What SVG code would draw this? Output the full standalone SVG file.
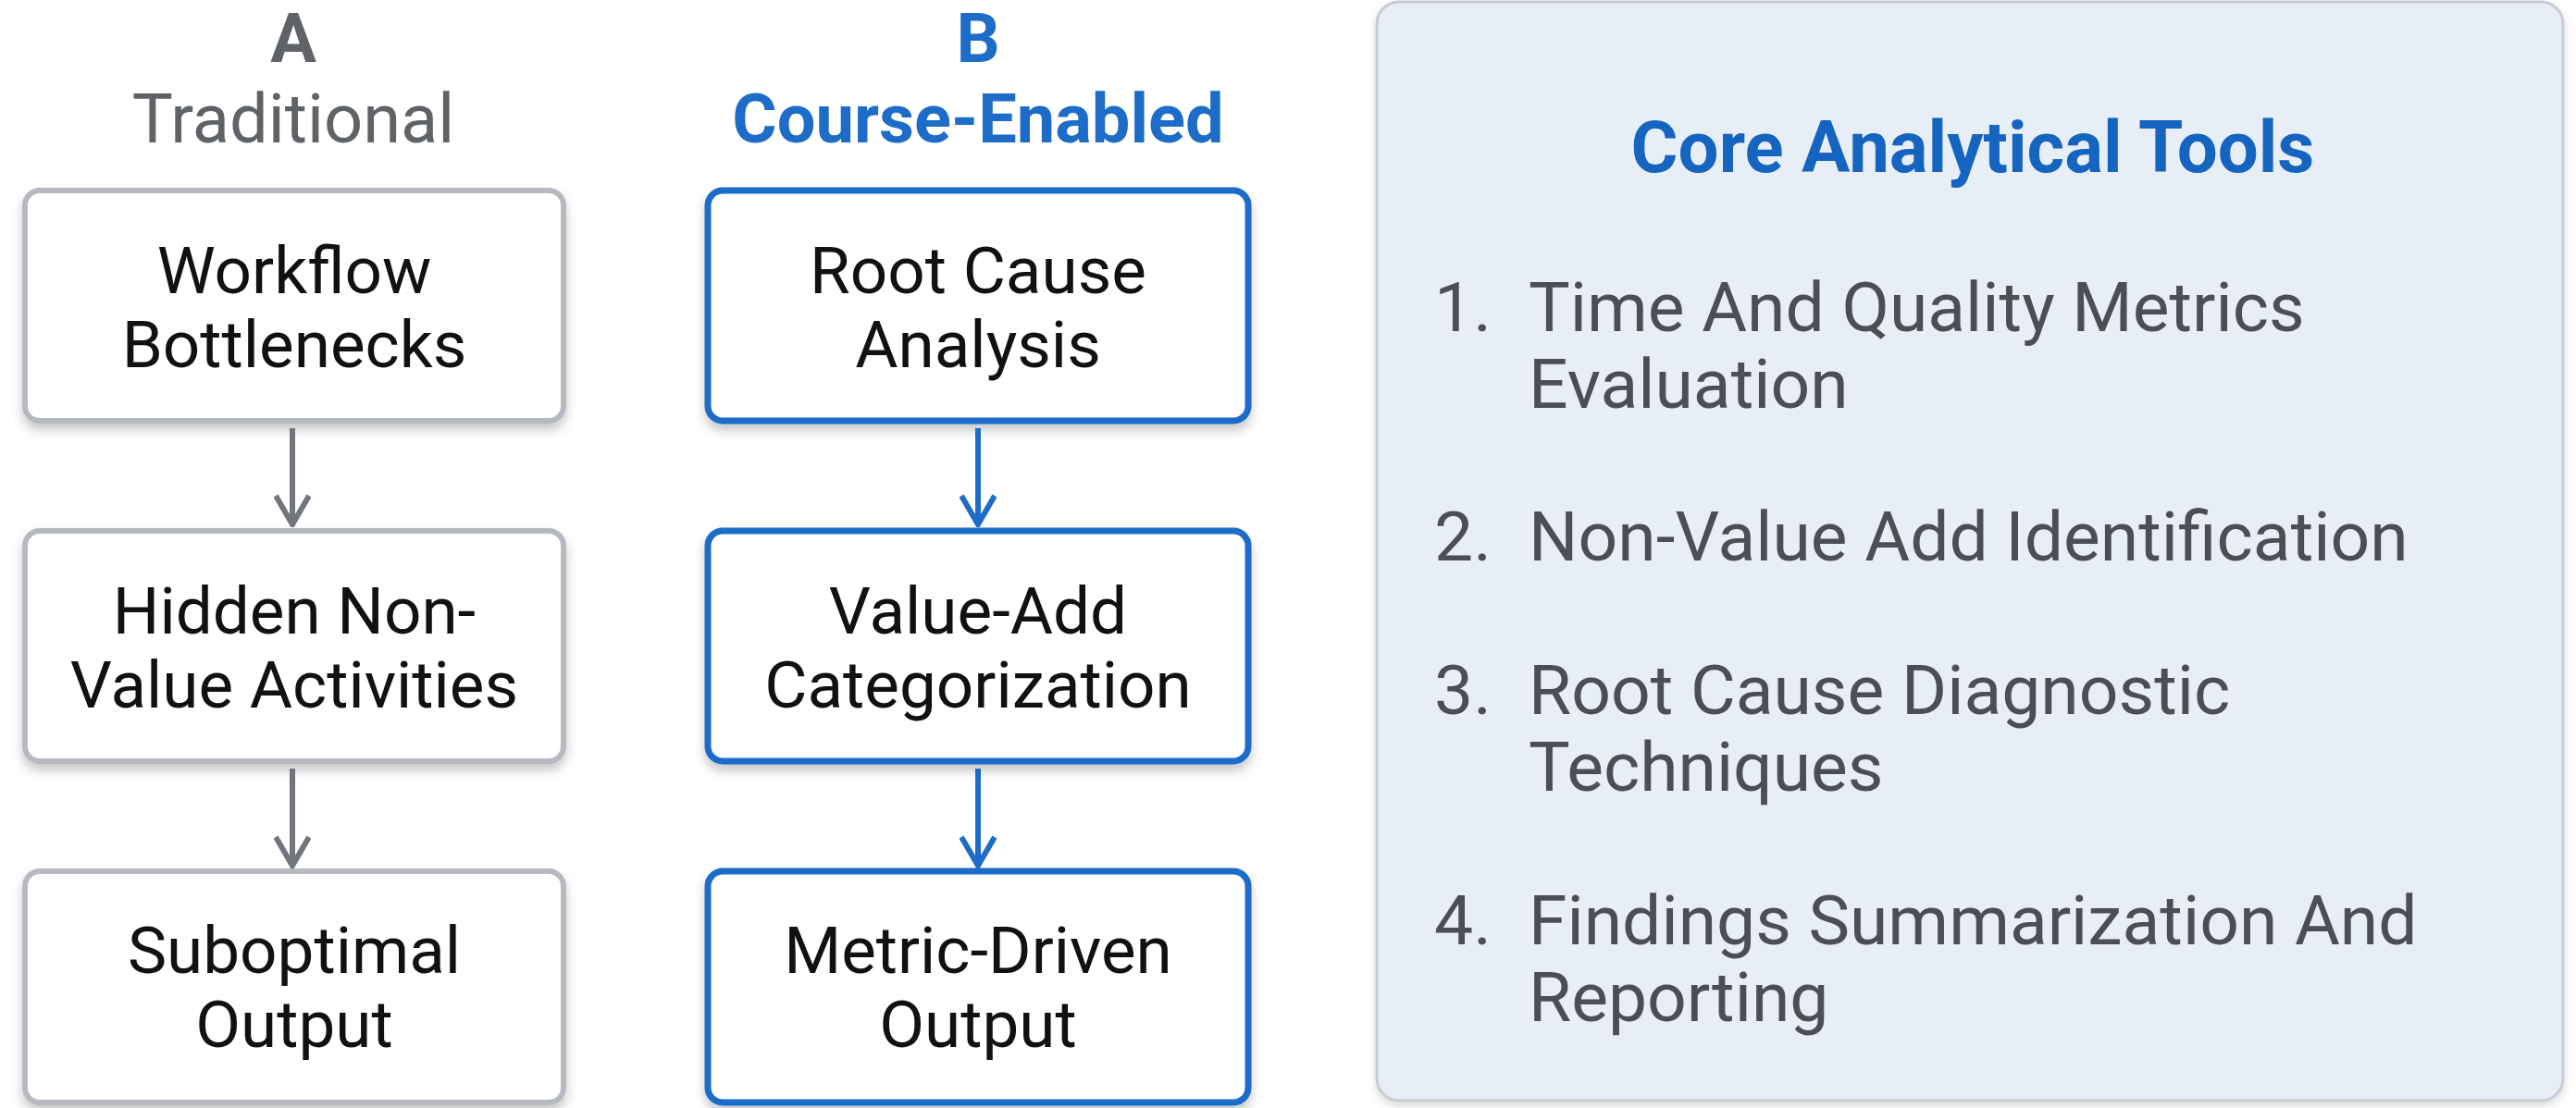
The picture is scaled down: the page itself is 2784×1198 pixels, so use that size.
<svg xmlns="http://www.w3.org/2000/svg" width="2784" height="1198" viewBox="0 0 2784 1198">
<defs>
<filter id="sh" x="-10%" y="-10%" width="120%" height="130%">
<feDropShadow dx="0" dy="7" stdDeviation="6" flood-color="#000" flood-opacity="0.22"/>
</filter>
<filter id="psh" x="-5%" y="-5%" width="110%" height="110%">
<feDropShadow dx="0" dy="4" stdDeviation="5" flood-color="#000" flood-opacity="0.15"/>
</filter>
<marker id="ag" viewBox="0 0 36 40" refX="33" refY="20" markerWidth="36" markerHeight="40" markerUnits="userSpaceOnUse" orient="auto">
<path d="M2,2 L33,20 L2,38" fill="none" stroke="#72767c" stroke-width="6" stroke-linejoin="miter"/>
</marker>
<marker id="ab" viewBox="0 0 36 40" refX="33" refY="20" markerWidth="36" markerHeight="40" markerUnits="userSpaceOnUse" orient="auto">
<path d="M2,2 L33,20 L2,38" fill="none" stroke="#1d6cc8" stroke-width="6" stroke-linejoin="miter"/>
</marker>
</defs>
<style>
text{font-family:Roboto,"Liberation Sans",Arial,sans-serif}
.boxA{fill:#fff;stroke:#b6bac0;stroke-width:6}
.boxB{fill:#fff;stroke:#1d6cc8;stroke-width:7}
.lbl{font-size:71px;fill:#111;text-anchor:middle}
.hdrA{font-size:74px;fill:#5f6368;text-anchor:middle}
.hdrB{font-size:74px;fill:#1d6cc8;text-anchor:middle;font-weight:bold}
.item{font-size:75px;fill:#4b4f55}
.lineA{stroke:#72767c;stroke-width:6;fill:none}
.lineB{stroke:#1d6cc8;stroke-width:6;fill:none}
</style>
<rect width="2784" height="1198" fill="#ffffff"/>

<g id="header-a">
<text class="hdrA" x="317" y="67" font-weight="bold">A</text>
<text class="hdrA" x="317" y="154">Traditional</text>
</g>
<g id="header-b">
<text class="hdrB" x="1057" y="67">B</text>
<text class="hdrB" x="1057" y="154">Course-Enabled</text>
</g>

<g id="a1">
<rect class="boxA" x="27" y="206" width="582" height="249" rx="16" filter="url(#sh)"/>
<text class="lbl" x="318" y="317">Workflow</text>
<text class="lbl" x="318" y="397">Bottlenecks</text>
</g>
<g id="a2">
<rect class="boxA" x="27" y="574" width="582" height="249" rx="16" filter="url(#sh)"/>
<text class="lbl" x="318" y="685">Hidden Non-</text>
<text class="lbl" x="318" y="765">Value Activities</text>
</g>
<g id="a3">
<rect class="boxA" x="27" y="942" width="582" height="250" rx="16" filter="url(#sh)"/>
<text class="lbl" x="318" y="1052">Suboptimal</text>
<text class="lbl" x="318" y="1132">Output</text>
</g>

<g id="b1">
<rect class="boxB" x="765" y="206" width="584" height="249" rx="16" filter="url(#sh)"/>
<text class="lbl" x="1057" y="317">Root Cause</text>
<text class="lbl" x="1057" y="397">Analysis</text>
</g>
<g id="b2">
<rect class="boxB" x="765" y="574" width="584" height="249" rx="16" filter="url(#sh)"/>
<text class="lbl" x="1057" y="685">Value-Add</text>
<text class="lbl" x="1057" y="765">Categorization</text>
</g>
<g id="b3">
<rect class="boxB" x="765" y="942" width="584" height="250" rx="16" filter="url(#sh)"/>
<text class="lbl" x="1057" y="1052">Metric-Driven</text>
<text class="lbl" x="1057" y="1132">Output</text>
</g>

<g id="connectors">
<line class="lineA" x1="316" y1="463" x2="316" y2="567" marker-end="url(#ag)"/>
<line class="lineA" x1="316" y1="831" x2="316" y2="936" marker-end="url(#ag)"/>
<line class="lineB" x1="1057" y1="463" x2="1057" y2="567" marker-end="url(#ab)"/>
<line class="lineB" x1="1057" y1="831" x2="1057" y2="936" marker-end="url(#ab)"/>
</g>

<g id="tools-panel">
<rect x="1488" y="2" width="1282" height="1188" rx="24" fill="#e8eef5" stroke="#c6ccd4" stroke-width="3" filter="url(#psh)"/>
<text x="2132" y="186" font-size="78" font-weight="bold" fill="#1565c0" text-anchor="middle">Core Analytical Tools</text>
<text class="item" x="1550" y="358">1.</text>
<text class="item" x="1652" y="358">Time And Quality Metrics</text>
<text class="item" x="1652" y="441">Evaluation</text>
<text class="item" x="1550" y="606">2.</text>
<text class="item" x="1652" y="606">Non-Value Add Identification</text>
<text class="item" x="1550" y="772">3.</text>
<text class="item" x="1652" y="772">Root Cause Diagnostic</text>
<text class="item" x="1652" y="855">Techniques</text>
<text class="item" x="1550" y="1021">4.</text>
<text class="item" x="1652" y="1021">Findings Summarization And</text>
<text class="item" x="1652" y="1104">Reporting</text>
</g>
</svg>
